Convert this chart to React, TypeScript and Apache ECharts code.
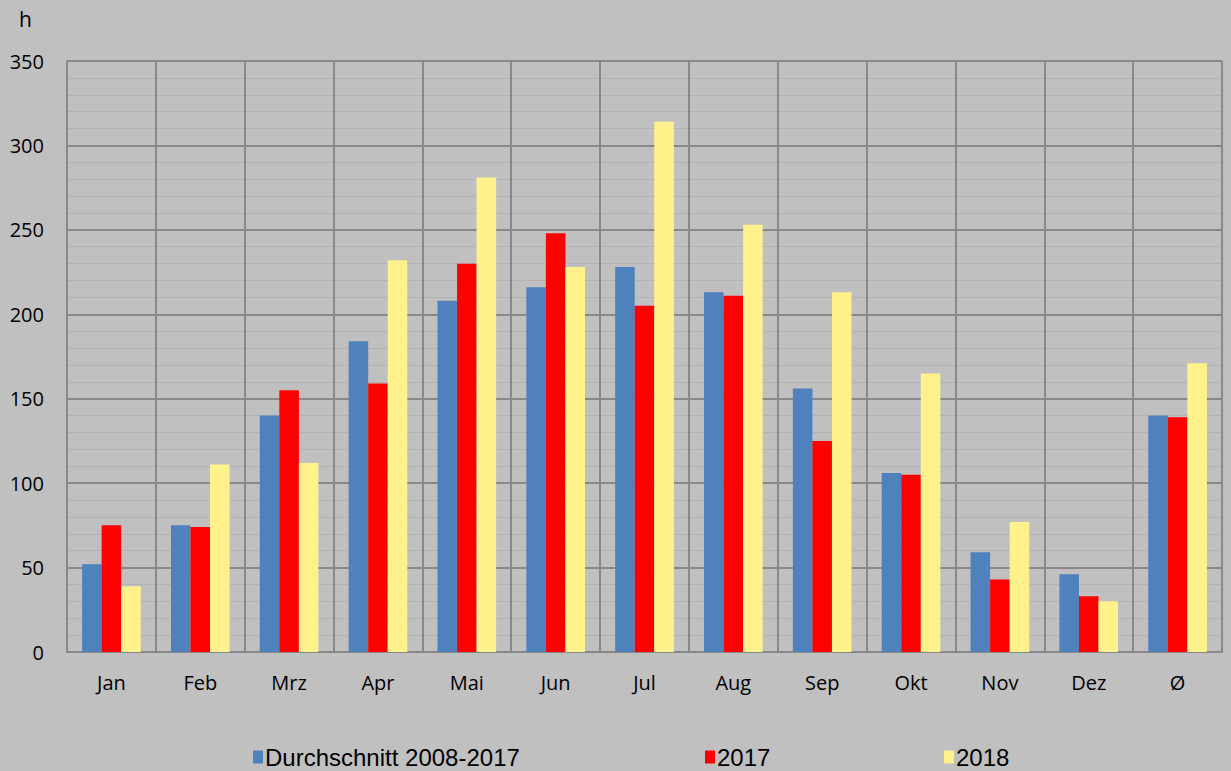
import React, { useEffect, useRef } from "react";
import * as echarts from "echarts";

const categories = ["Jan", "Feb", "Mrz", "Apr", "Mai", "Jun", "Jul", "Aug", "Sep", "Okt", "Nov", "Dez", "Ø"];
const avg2008_2017 = [52, 75, 140, 184, 208, 216, 228, 213, 156, 106, 59, 46, 140];
const values2017 = [75, 74, 155, 159, 230, 248, 205, 211, 125, 105, 43, 33, 139];
const values2018 = [39, 111, 112, 232, 281, 228, 314, 253, 213, 165, 77, 30, 171];
const seriesNames = ["Durchschnitt 2008-2017", "2017", "2018"];
const legendLefts = [253, 705, 944];

export default function App() {
  const ref = useRef<HTMLDivElement>(null);
  useEffect(() => {
    document.body.style.margin = "0";
    const chart = echarts.init(ref.current!, undefined, { renderer: "svg" });
    const gridColor = "#888888";
    const legends = seriesNames.map((name, i) => ({
      left: legendLefts[i],
      top: 745,
      padding: 0,
      itemWidth: 10,
      itemHeight: 13,
      itemGap: 0,
      icon: "rect",
      textStyle: { fontSize: 24, color: "#000", fontFamily: "Liberation Sans", padding: [0, 0, 0, -3], lineHeight: 24 },
      data: [name],
    }));
    chart.setOption({
      animation: false,
      backgroundColor: "#c0c0c0",
      textStyle: { fontFamily: "Open Sans" },
      grid: { left: 67, right: 9, top: 61, bottom: 119 },
      title: {
        text: "h",
        left: 14,
        top: 3,
        textStyle: { fontSize: 21, fontWeight: "normal", color: "#000", fontFamily: "Open Sans" },
      },
      legend: legends,
      xAxis: {
        type: "category",
        data: categories,
        axisLine: { lineStyle: { color: gridColor, width: 2 } },
        axisTick: { show: false },
        axisLabel: { color: "#000", fontSize: 20, margin: 20, fontFamily: "Open Sans" },
        splitLine: { show: true, interval: 0, lineStyle: { color: gridColor, width: 2 } },
      },
      yAxis: {
        type: "value",
        min: 0,
        max: 350,
        interval: 50,
        axisLine: { show: true, lineStyle: { color: gridColor, width: 2 } },
        axisTick: { show: false },
        axisLabel: { color: "#000", fontSize: 20, margin: 23, fontFamily: "Open Sans" },
        splitLine: { show: true, lineStyle: { color: gridColor, width: 2 } },
        minorTick: { show: false, splitNumber: 5 },
        minorSplitLine: { show: true, lineStyle: { color: "#b2b2b2", width: 1 } },
      },
      series: [
        { name: seriesNames[0], type: "bar", data: avg2008_2017, itemStyle: { color: "#4f81bd" }, barGap: "0%", barCategoryGap: "34%" },
        { name: seriesNames[1], type: "bar", data: values2017, itemStyle: { color: "#ff0000" }, barGap: "0%", barCategoryGap: "34%" },
        { name: seriesNames[2], type: "bar", data: values2018, itemStyle: { color: "#fff28c" }, barGap: "0%", barCategoryGap: "34%" },
      ],
    });
    return () => chart.dispose();
  }, []);
  return <div ref={ref} style={{ width: 1231, height: 771 }} />;
}
